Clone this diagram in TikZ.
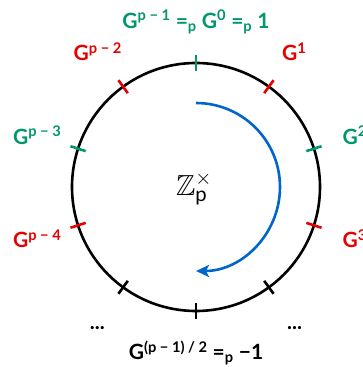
\documentclass[tikz,border=0pt]{standalone}
\usepackage{fontspec}
\usepackage{amssymb}
\setmainfont{Lato}
\usetikzlibrary{arrows.meta}
\definecolor{gengreen}{RGB}{0,150,110}
\definecolor{genred}{RGB}{230,0,0}
\definecolor{genblue}{RGB}{0,102,204}
\begin{document}
\begin{tikzpicture}[x=1pt, y=1pt, line width=2.6pt, line cap=butt, font=\fontsize{21}{24}\selectfont\bfseries, declare function={circR=124; labR=167; arcR=84; tickL=8;}]
			\useasboundingbox (-196,-180) rectangle (167,187);
			\path (0,0) coordinate (O);
			\draw (O) circle (circR);
			\foreach \a/\c in {90/gengreen,54/genred,18/gengreen,-18/genred,-54/black,-90/black,-126/black,-162/genred,162/gengreen,126/genred}
			\draw[\c] (\a:circR-tickL) -- (\a:circR+tickL);
			\draw[genblue, -{Stealth[length=13pt, width=12pt, inset=3pt]}] (90:arcR) arc[start angle=90, end angle=-90, radius=arcR];
			\node (zp) at (-2,-2) {\mdseries\fontsize{29}{31}\selectfont$\mathbb{Z}^{\times}_{\mathrm{p}}$};
			\foreach \a/\c/\t/\n in {54/genred/1/g1, 18/gengreen/2/g2, -18/genred/3/g3, 126/genred/p − 2/gm2, 162/gengreen/p − 3/gm3, -162/genred/p − 4/gm4}
			\node[text=\c] (\n) at (\a:labR) {G\textsuperscript{\t}};
			\node[text=gengreen] (g0) at (90:165) {G\textsuperscript{p − 1} =\textsubscript{p} G\textsuperscript{0} =\textsubscript{p} 1};
			\node (ghalf) at (-90:166) {G\textsuperscript{(p − 1) / 2} =\textsubscript{p} −1};
			\node (dotl) at (-125:172) {...};
			\node (dotr) at (-55:172) {...};
		\end{tikzpicture}
\end{document}
